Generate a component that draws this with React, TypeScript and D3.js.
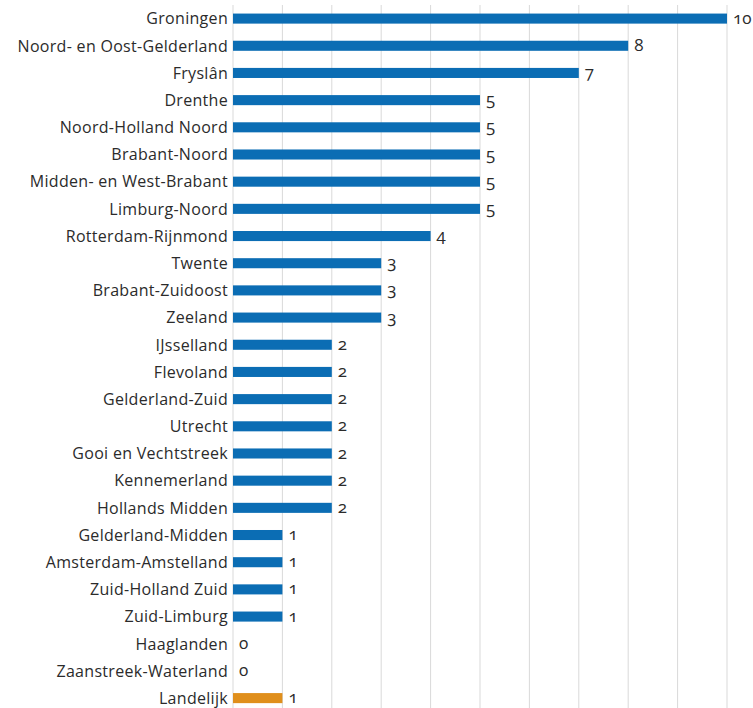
import React, { useEffect, useRef } from 'react';
import * as d3 from 'd3';

const regions = [
  'Groningen', 'Noord- en Oost-Gelderland', 'Fryslân', 'Drenthe', 'Noord-Holland Noord',
  'Brabant-Noord', 'Midden- en West-Brabant', 'Limburg-Noord', 'Rotterdam-Rijnmond',
  'Twente', 'Brabant-Zuidoost', 'Zeeland', 'IJsselland', 'Flevoland', 'Gelderland-Zuid',
  'Utrecht', 'Gooi en Vechtstreek', 'Kennemerland', 'Hollands Midden', 'Gelderland-Midden',
  'Amsterdam-Amstelland', 'Zuid-Holland Zuid', 'Zuid-Limburg', 'Haaglanden',
  'Zaanstreek-Waterland', 'Landelijk',
];
const values = [10, 8, 7, 5, 5, 5, 5, 5, 4, 3, 3, 3, 2, 2, 2, 2, 2, 2, 2, 1, 1, 1, 1, 0, 0, 1];
const gridTicks = [0, 1, 2, 3, 4, 5, 6, 7, 8, 9, 10];

const width = 753;
const height = 708;
const blue = '#0b6db4';
const orange = '#e08f1c';
const textColor = '#2b2b2b';
const font = '"Open Sans", Lato, sans-serif';

function App() {
  const ref = useRef<SVGSVGElement>(null);

  useEffect(() => {
    document.body.style.margin = '0';
    const svg = d3.select(ref.current);
    svg.selectAll('*').remove();

    const x = d3.scaleLinear().domain([0, 10]).range([233, 727]);
    const y = d3
      .scaleBand()
      .domain(regions)
      .range([5, 711.7])
      .paddingInner(0.63)
      .paddingOuter(0.315);

    // grid
    svg.append('g')
      .selectAll('line')
      .data(gridTicks)
      .enter()
      .append('line')
      .attr('x1', (d) => x(d))
      .attr('x2', (d) => x(d))
      .attr('y1', 5)
      .attr('y2', height)
      .style('stroke', '#d9d9d9')
      .style('stroke-width', 1);

    const data = regions.map((r, i) => ({ label: r, value: values[i] }));

    svg.append('g')
      .selectAll('rect')
      .data(data)
      .enter()
      .append('rect')
      .attr('x', x(0))
      .attr('y', (d) => y(d.label)!)
      .attr('width', (d) => x(d.value) - x(0))
      .attr('height', y.bandwidth())
      .style('fill', (d) => (d.label === 'Landelijk' ? orange : blue));

    // category labels
    svg.append('g')
      .selectAll('text')
      .data(data)
      .enter()
      .append('text')
      .attr('x', 228)
      .attr('y', (d) => y(d.label)! + y.bandwidth() / 2)
      .attr('dy', '0.36em')
      .attr('text-anchor', 'end')
      .style('font-family', font)
      .style('font-size', '16px')
      .style('letter-spacing', '0.3px')
      .style('fill', textColor)
      .text((d) => d.label);

    // value labels
    svg.append('g')
      .selectAll('text')
      .data(data)
      .enter()
      .append('text')
      .attr('x', (d) => x(d.value) + 6)
      .attr('y', (d) => y(d.label)! + y.bandwidth() / 2)
      .attr('dy', '0.3em')
      .style('font-family', font)
      .style('font-size', '17px')
      .style('font-variant-numeric', 'oldstyle-nums')
      .style('fill', textColor)
      .text((d) => d.value);
  }, []);

  return <svg ref={ref} width={width} height={height} style={{ display: 'block', background: '#fff' }} />;
}

export default App;
